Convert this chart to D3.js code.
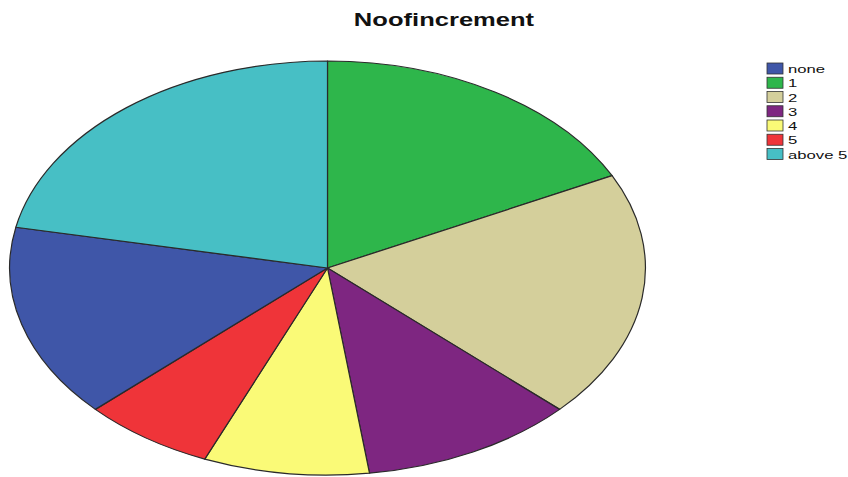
<!DOCTYPE html>
<html><head><meta charset="utf-8">
<script src="https://cdn.jsdelivr.net/npm/d3@7"></script>
<style>html,body{margin:0;padding:0;background:#fff;}svg{display:block;}</style>
</head><body>
<svg id="chart" width="848" height="477"></svg>
<script>
const title = "Noofincrement";
const legendCategories = ["none", "1", "2", "3", "4", "5", "above 5"];
const legendColors = ["#3f56a8", "#2eb64b", "#d4cf9b", "#7e2681", "#fafa77", "#ef3439", "#47bfc5"];
// drawing order (clockwise from 12 o'clock)
const sliceCategories = ["1", "2", "3", "4", "5", "none", "above 5"];
const sliceValues = [21, 23, 13, 10, 8, 18, 26];

const svg = d3.select("#chart");
const color = d3.scaleOrdinal().domain(legendCategories).range(legendColors);

const cx = 327.5, cy = 268, rx = 318, ry = 207;
const data = sliceCategories.map((c, i) => ({cat: c, value: sliceValues[i]}));
const pie = d3.pie().sort(null).value(d => d.value);
const arc = d3.arc().innerRadius(0).outerRadius(1);

const g = svg.append("g").attr("transform", `translate(${cx},${cy}) scale(${rx},${ry})`);
g.selectAll("path").data(pie(data)).join("path")
  .attr("d", arc)
  .attr("fill", d => color(d.data.cat))
  .attr("stroke", "#2a2a2a")
  .attr("stroke-width", 1.2)
  .attr("vector-effect", "non-scaling-stroke")
  .attr("stroke-linejoin", "round");

// title (horizontally stretched like the original)
const sx = 1.42;
svg.append("text")
  .attr("transform", `translate(444,26) scale(${sx},1)`)
  .attr("text-anchor", "middle")
  .attr("font-family", "Liberation Sans, Arial, sans-serif")
  .attr("font-weight", "bold")
  .attr("font-size", 18)
  .attr("fill", "#111")
  .text(title);

// legend
const legendY = d3.scalePoint().domain(legendCategories).range([68.5, 154]);
const lg = svg.append("g");
const rows = lg.selectAll("g").data(legendCategories).join("g")
  .attr("transform", d => `translate(767,${legendY(d)})`);
rows.append("rect")
  .attr("x", 0).attr("y", -5.5).attr("width", 16).attr("height", 11)
  .attr("fill", d => color(d))
  .attr("stroke", "#333").attr("stroke-width", 0.8);
rows.append("text")
  .attr("transform", "translate(21,4.5) scale(1.45,1)")
  .attr("font-family", "Liberation Sans, Arial, sans-serif")
  .attr("font-size", 11.5)
  .attr("fill", "#111")
  .text(d => d);
</script>
</body></html>
